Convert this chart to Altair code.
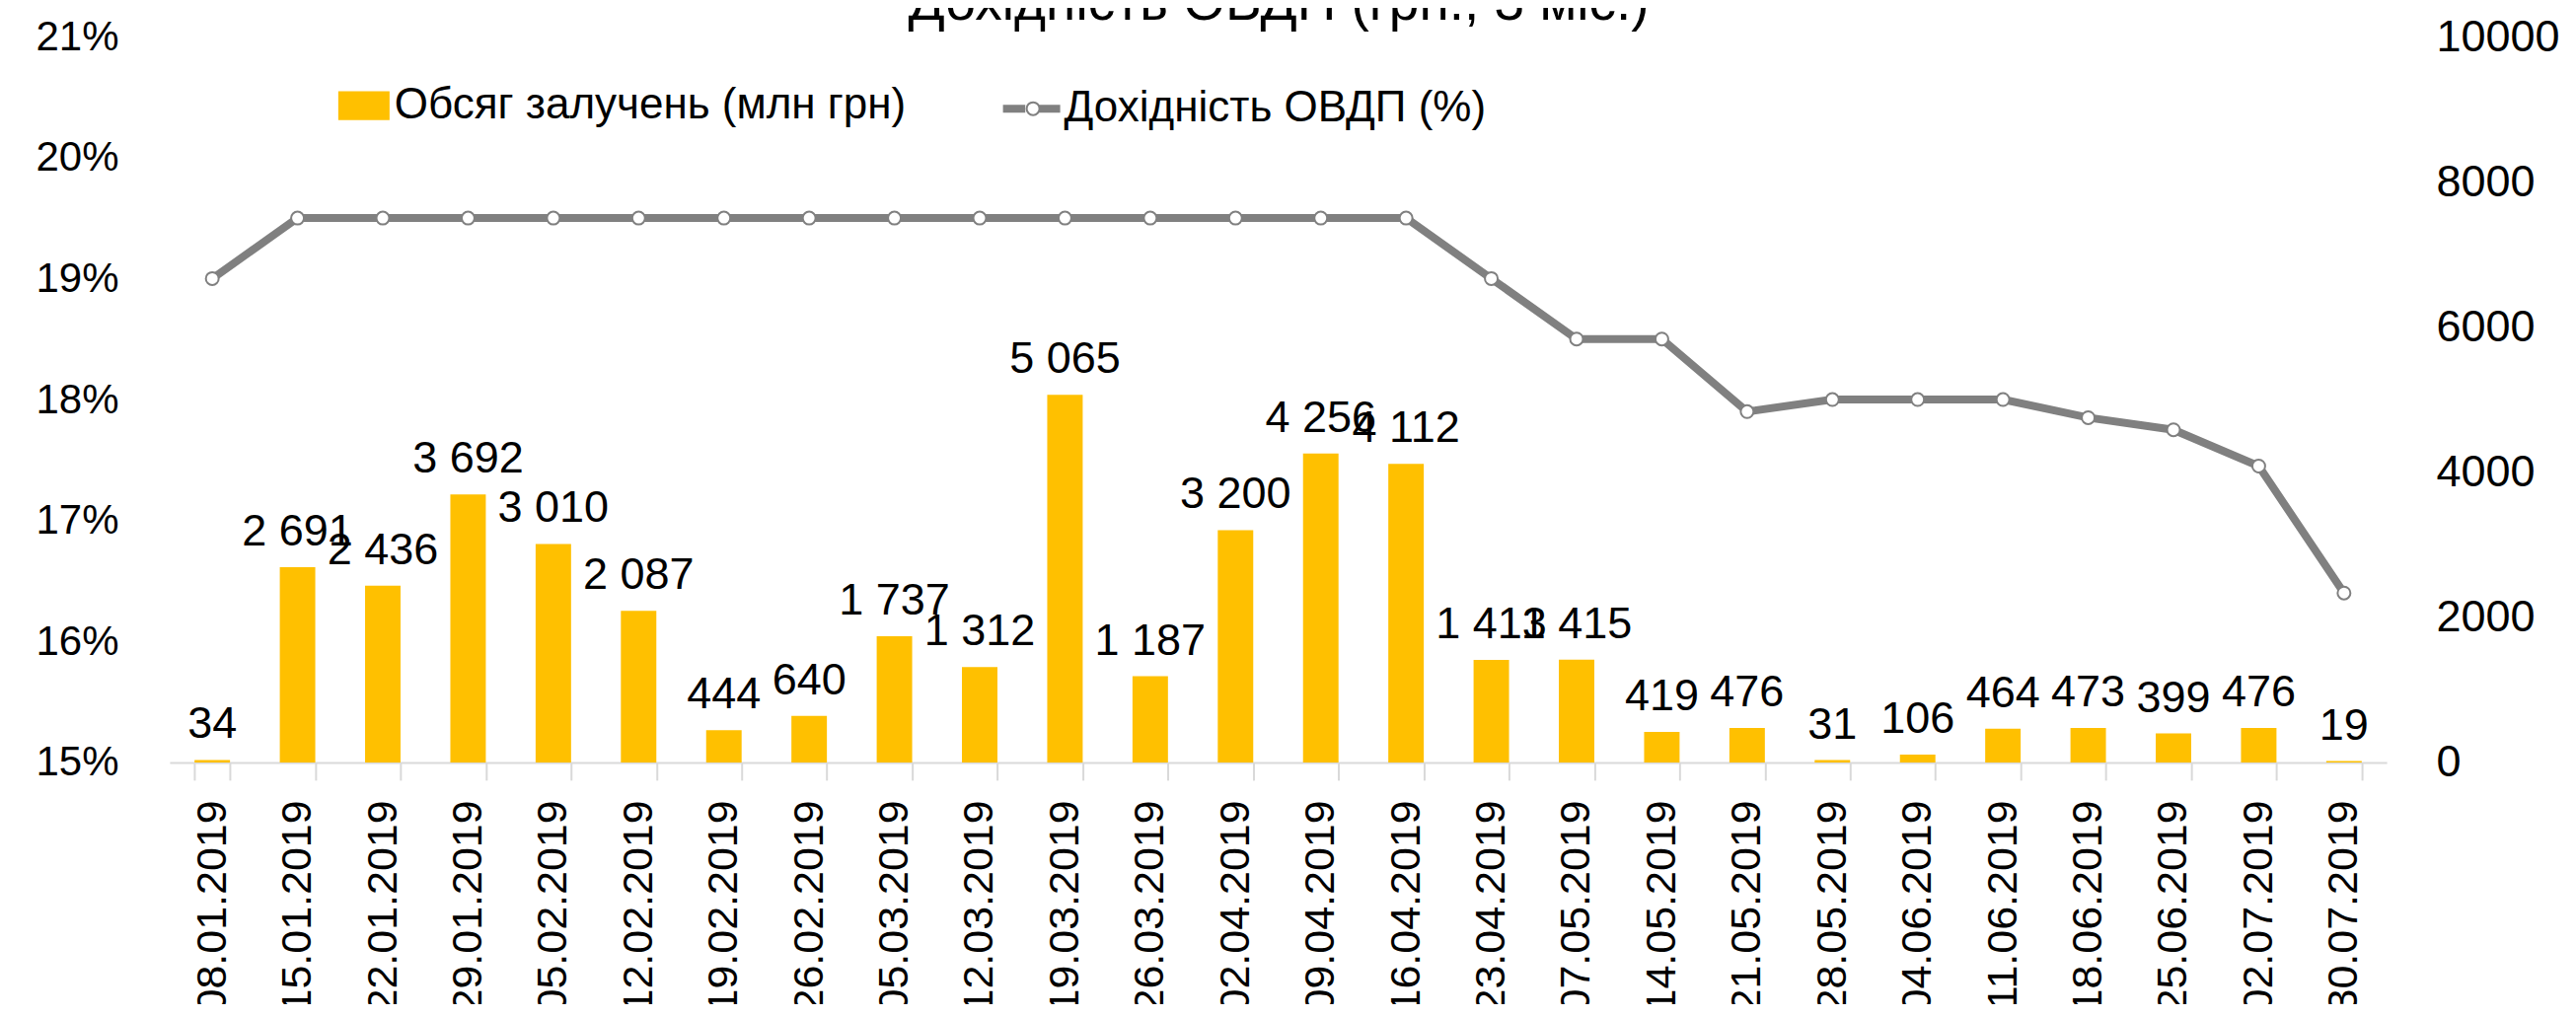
import altair as alt
import pandas as pd

dates = ["08.01.2019", "15.01.2019", "22.01.2019", "29.01.2019", "05.02.2019", "12.02.2019",
         "19.02.2019", "26.02.2019", "05.03.2019", "12.03.2019", "19.03.2019", "26.03.2019",
         "02.04.2019", "09.04.2019", "16.04.2019", "23.04.2019", "07.05.2019", "14.05.2019",
         "21.05.2019", "28.05.2019", "04.06.2019", "11.06.2019", "18.06.2019", "25.06.2019",
         "02.07.2019", "30.07.2019"]
volumes = [34, 2691, 2436, 3692, 3010, 2087, 444, 640, 1737, 1312, 5065, 1187, 3200, 4256,
           4112, 1413, 1415, 419, 476, 31, 106, 464, 473, 399, 476, 19]
yields = [19.0, 19.5, 19.5, 19.5, 19.5, 19.5, 19.5, 19.5, 19.5, 19.5, 19.5, 19.5, 19.5, 19.5,
          19.5, 19.0, 18.5, 18.5, 17.9, 18.0, 18.0, 18.0, 17.85, 17.75, 17.45, 16.4]
vol_ticks = [0, 2000, 4000, 6000, 8000, 10000]
yield_ticks = [15, 16, 17, 18, 19, 20, 21]

S1 = "Обсяг залучень (млн грн)"
S2 = "Дохідність ОВДП (%)"
TITLE = "Дохідність ОВДП (грн., 3 міс.)"

FONT = "Liberation Sans"
FS = 45
W, H = 2248, 736

df = pd.DataFrame({"date": dates, "volume": volumes, "yield": yields})
df["s1"] = S1
df["s2"] = S2
df["s3"] = S2

xscale = alt.Scale(paddingInner=0.584, paddingOuter=0.292)

x_bottom = alt.X(
    "date:N", sort=dates, title=None, scale=xscale,
    axis=alt.Axis(labelAngle=270, labelAlign="right", labelBaseline="middle",
                  labelFontSize=43, labelFont=FONT, labelColor="black", labelLimit=0,
                  domainColor="#d9d9d9", domainWidth=2, tickColor="#d9d9d9",
                  tickWidth=2, tickSize=18, tickBand="extent", labelPadding=20,
                  labelOverlap=False),
)
x_top = alt.X(
    "date:N", sort=dates, title=TITLE, scale=xscale,
    axis=alt.Axis(orient="top", labels=False, ticks=False, domain=False, grid=False,
                  titleX=W / 2, titleY=-18, titleAlign="center", titleBaseline="alphabetic",
                  titleFontSize=55, titleFont=FONT, titleFontWeight="normal",
                  titleColor="black"),
)
x_plain = alt.X("date:N", sort=dates, title=None, scale=xscale, axis=None)

yv = alt.Y(
    "volume:Q", title=None,
    scale=alt.Scale(domain=[0, 10000], nice=False),
    axis=alt.Axis(orient="right", values=vol_ticks, format="d", grid=False, domain=False,
                  ticks=False, labelPadding=50, labelFontSize=FS, labelFont=FONT,
                  labelColor="black"),
)
yv_plain = alt.Y("volume:Q", title=None, scale=alt.Scale(domain=[0, 10000], nice=False),
                 axis=None)

yy = alt.Y(
    "yield:Q", title=None,
    scale=alt.Scale(domain=[15, 21], nice=False, zero=False),
    axis=alt.Axis(orient="left", values=yield_ticks, grid=False, domain=False, ticks=False,
                  labelExpr="datum.value + '%'", labelPadding=52, labelFontSize=42,
                  labelFont=FONT, labelColor="black"),
)
yy_plain = alt.Y("yield:Q", title=None,
                 scale=alt.Scale(domain=[15, 21], nice=False, zero=False), axis=None)

base = alt.Chart(df)

bars = base.mark_bar(color="#FFC000").encode(
    x=x_bottom, y=yv,
    color=alt.Color("s1:N", scale=alt.Scale(range=["#FFC000"]),
                    legend=alt.Legend(orient="none", legendX=171, legendY=44, title=None,
                                      symbolType="M-1,-0.56L1,-0.56L1,0.56L-1,0.56Z",
                                      symbolSize=2704, symbolStrokeWidth=0,
                                      labelFontSize=44, labelFont=FONT, labelColor="black",
                                      labelOffset=5, labelLimit=2000)),
)

labels = base.mark_text(baseline="alphabetic", dy=-22, fontSize=FS, font=FONT,
                        color="black").transform_calculate(
    label="replace(format(datum.volume, ','), ',', ' ')"
).encode(x=x_plain, y=yv_plain, text="label:N")

line = base.mark_line(strokeWidth=8, color="#808080").encode(
    x=x_top, y=yy,
    stroke=alt.Stroke("s2:N", scale=alt.Scale(range=["#808080"]),
                      legend=alt.Legend(orient="none", legendX=841, legendY=40, title=None,
                                        symbolType="M-1,0L-0.22,0M0.22,0L1,0",
                                        symbolSize=3364, symbolStrokeWidth=8,
                                        labelFontSize=44, labelFont=FONT, labelColor="black",
                                        labelOffset=0, labelLimit=2000)),
)

points = base.mark_point(filled=False, fill="white", strokeWidth=2,
                         size=169, opacity=1).encode(
    x=x_plain, y=yy_plain,
    stroke=alt.Stroke("s3:N", scale=alt.Scale(range=["#808080"]),
                      legend=alt.Legend(orient="none", legendX=853.5, legendY=51, title=None,
                                        symbolType="circle", symbolSize=169,
                                        symbolStrokeWidth=2, labelFontSize=44,
                                        labelFont=FONT, labelLimit=2000,
                                        labelColor="transparent")),
)

chart = alt.layer(bars, labels, line, points).resolve_scale(
    y="independent", stroke="independent", color="independent"
).resolve_axis(x="independent").properties(
    width=W, height=H,
    padding={"left": 164, "top": 29, "right": 184, "bottom": 245},
    autosize=alt.AutoSizeParams(type="none"),
    background="white",
).configure_view(stroke=None)

chart.save("out.html", embed_options={"renderer": "svg", "actions": False})
